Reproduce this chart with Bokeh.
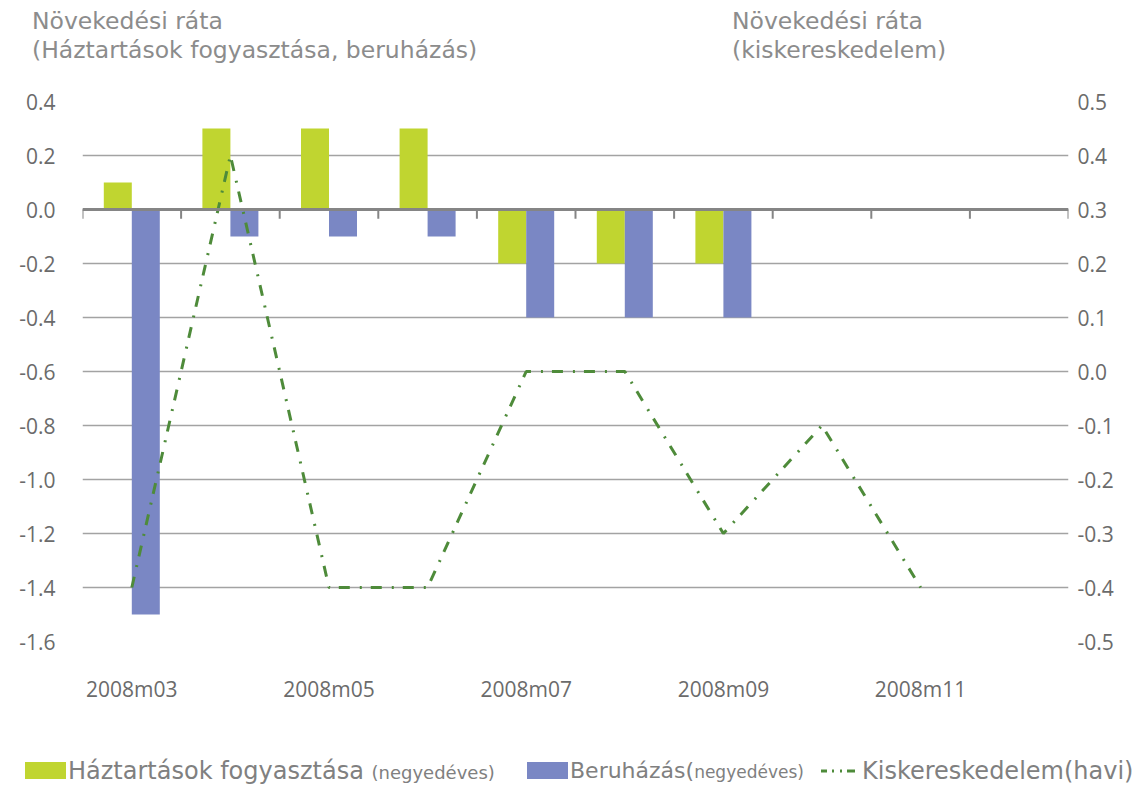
import numpy as np
from bokeh.plotting import figure
from bokeh.models import Range1d, LinearAxis, FixedTicker, NumeralTickFormatter, Span, Div
from bokeh.layouts import column
from bokeh.embed import file_html
from bokeh.resources import INLINE

# ---------------- data ----------------
months = ["2008m03", "2008m04", "2008m05", "2008m06", "2008m07",
          "2008m08", "2008m09", "2008m10", "2008m11", "2008m12"]
haztartas = [0.1, 0.3, 0.3, 0.3, -0.2, -0.2, -0.2, None, None, None]
beruhazas = [-1.5, -0.1, -0.1, -0.1, -0.4, -0.4, -0.4, None, None, None]
kisker = [-0.4, 0.4, -0.4, -0.4, 0.0, 0.0, -0.3, -0.1, -0.4, None]
left_ticks = [-1.6, -1.4, -1.2, -1.0, -0.8, -0.6, -0.4, -0.2, 0.0, 0.2, 0.4]
right_ticks = [-0.5, -0.4, -0.3, -0.2, -0.1, 0.0, 0.1, 0.2, 0.3, 0.4, 0.5]
title_left = ["Növekedési ráta", "(Háztartások fogyasztása, beruházás)"]
title_right = ["Növekedési ráta", "(kiskereskedelem)"]
legend_main = ["Háztartások fogyasztása", "Beruházás(", "Kiskereskedelem(havi)"]
legend_small = ["(negyedéves)", "negyedéves)"]

GREEN = "#C0D530"
BLUE = "#7A87C4"
LINE = "#4E8B3A"
GRID = "#A3A3A3"
ZERO = "#858585"
TICKTXT = "#6B6B6B"
TITLETXT = "#8C8C8C"
LEGTXT = "#808080"

def nan(v):
    return np.array([np.nan if x is None else x for x in v], dtype=float)

W = 1141
HDR_H, MAIN_H, LEG_H = 78, 642, 69
xs = np.arange(len(months), dtype=float)

# ---------------- header (HTML) ----------------
def title_block(left, lines):
    return ('<div style="position:absolute;left:%dpx;top:7px;white-space:nowrap;">%s</div>'
            % (left, "<br>".join(lines)))

hdr_html = ('<div style="position:relative;width:%dpx;height:%dpx;font-family:\'DejaVu Sans\';'
            'font-size:23.5px;line-height:29px;color:%s;">%s%s</div>'
            % (W, HDR_H, TITLETXT, title_block(32, title_left), title_block(732, title_right)))
hdr = Div(text=hdr_html, width=W, height=HDR_H, margin=0)

# ---------------- main chart ----------------
p = figure(width=W, height=MAIN_H, x_range=Range1d(-0.5, len(months) - 0.5),
           y_range=Range1d(left_ticks[0], left_ticks[-1]),
           min_border_left=82, min_border_right=73, min_border_top=23, min_border_bottom=79,
           toolbar_location=None, output_backend="svg", margin=0)
p.outline_line_color = None
p.extra_y_ranges = {"r": Range1d(right_ticks[0], right_ticks[-1])}

la = p.yaxis[0]
la.ticker = FixedTicker(ticks=left_ticks)
la.formatter = NumeralTickFormatter(format="0.0")
ra = LinearAxis(y_range_name="r", ticker=FixedTicker(ticks=right_ticks),
                formatter=NumeralTickFormatter(format="0.0"))
p.add_layout(ra, "right")
for ax, so in ((la, 27), (ra, 9)):
    ax.axis_line_color = None
    ax.major_tick_line_color = None
    ax.minor_tick_line_color = None
    ax.major_tick_in = 0
    ax.major_tick_out = 0
    ax.major_label_standoff = so
    ax.major_label_text_font = "Open Sans"
    ax.major_label_text_font_size = "21px"
    ax.major_label_text_color = TICKTXT

xa = p.xaxis[0]
xa.ticker = FixedTicker(ticks=list(range(0, len(months), 2)))
xa.major_label_overrides = {i: months[i] for i in range(0, len(months), 2)}
xa.axis_line_color = None
xa.major_tick_line_color = None
xa.minor_tick_line_color = None
xa.major_tick_in = 0
xa.major_tick_out = 0
xa.major_label_standoff = 33
xa.major_label_text_font = "Open Sans"
xa.major_label_text_font_size = "21px"
xa.major_label_text_color = TICKTXT

p.xgrid.visible = False
p.ygrid.ticker = FixedTicker(ticks=left_ticks)
p.ygrid.grid_line_color = GRID
p.ygrid.grid_line_width = 1.6

bw = 0.284
p.vbar(x=xs - bw / 2, top=nan(haztartas), width=bw, color=GREEN, line_color=None)
p.vbar(x=xs + bw / 2, top=nan(beruhazas), width=bw, color=BLUE, line_color=None)

p.add_layout(Span(location=0, dimension="width", line_color=ZERO, line_width=3))
bounds = np.arange(len(months) + 1) - 0.5
p.segment(x0=bounds, y0=np.zeros_like(bounds), x1=bounds, y1=np.full_like(bounds, -0.034),
          line_color=ZERO, line_width=2)

p.line(xs, nan(kisker), y_range_name="r", line_color=LINE, line_width=3,
       line_dash="11 10 2 9")

# ---------------- legend (HTML) ----------------
BASE = 59  # text baseline inside legend block

def txt(left, html, fs, lh, asc=0.928, desc=0.236):
    top = BASE - ((lh - (asc + desc) * fs) / 2 + asc * fs)
    return ('<div style="position:absolute;left:%dpx;top:%.1fpx;font-size:%dpx;line-height:%dpx;'
            'white-space:nowrap;">%s</div>' % (left, top, fs, lh, html))

def small(s, fs):
    return '<span style="font-size:%dpx;">%s</span>' % (fs, s)

def swatch(left, color):
    return ('<div style="position:absolute;left:%dpx;top:%dpx;width:41px;height:17px;'
            'background:%s;"></div>' % (left, BASE - 17, color))

line_svg = ('<svg style="position:absolute;left:821px;top:%dpx;" width="42" height="10">'
            '<line x1="0" y1="5" x2="40" y2="5" stroke="%s" stroke-width="3" '
            'stroke-dasharray="6 5 2 6 2 5 8"/></svg>' % (BASE - 13, LINE))

leg_html = ('<div style="position:relative;width:%dpx;height:%dpx;font-family:\'DejaVu Sans\';'
            'color:%s;">' % (W, LEG_H, LEGTXT)
            + swatch(25, GREEN)
            + txt(68, legend_main[0] + " " + small(legend_small[0], 18), 24, 30)
            + swatch(527, BLUE)
            + txt(570, legend_main[1] + small(legend_small[1], 17), 22, 28)
            + line_svg
            + txt(862, legend_main[2], 24, 30)
            + '</div>')
leg = Div(text=leg_html, width=W, height=LEG_H, margin=0)

layout = column(hdr, p, leg, spacing=0)
open("out.html", "w").write(file_html(layout, INLINE))
